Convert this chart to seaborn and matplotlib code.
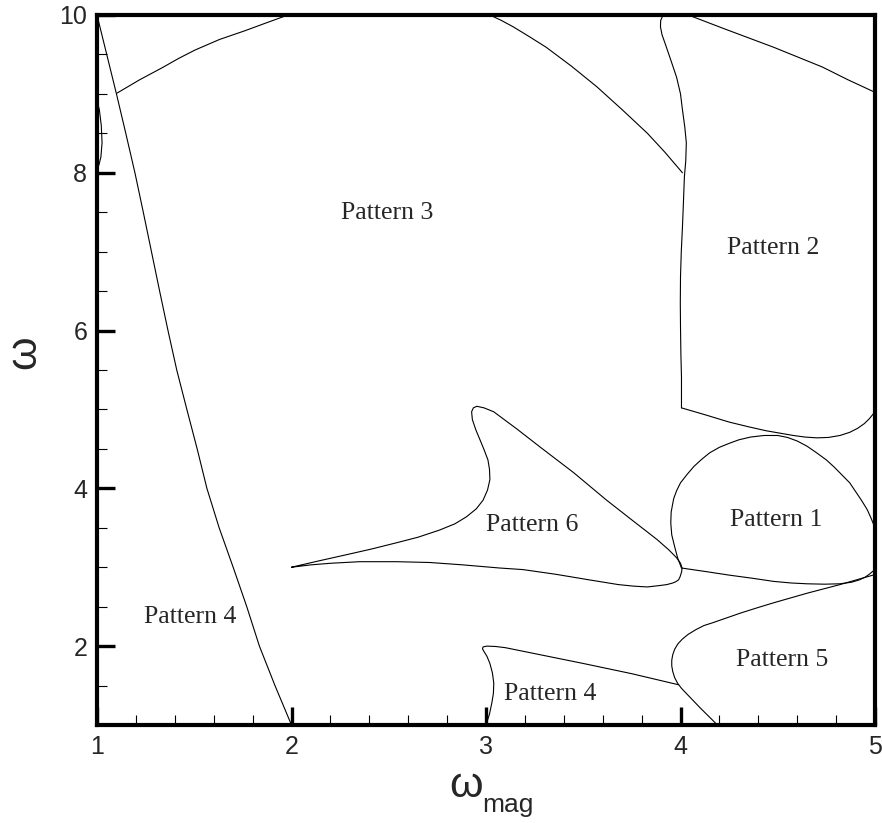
import matplotlib
matplotlib.use("Agg")
import matplotlib.pyplot as plt
from matplotlib.ticker import MultipleLocator
import seaborn as sns
import pandas as pd

# ---- data ----
a_x = [1.0, 1.05, 1.10, 1.148, 1.195, 1.238, 1.28, 1.322, 1.365, 1.41, 1.462, 1.515,
       1.565, 1.628, 1.70, 1.77, 1.835, 1.915, 2.0]
a_y = [10.0, 9.5, 9.0, 8.5, 8.0, 7.5, 7.0, 6.5, 6.0, 5.5, 5.0, 4.5,
       4.0, 3.5, 3.0, 2.5, 2.0, 1.5, 1.0]

b_x = [1.103, 1.22, 1.334, 1.42, 1.504, 1.63, 1.76, 1.87, 1.982]
b_y = [9.01, 9.18, 9.33, 9.45, 9.556, 9.69, 9.80, 9.90, 10.0]

c_x = [3.02, 3.08, 3.14, 3.22, 3.31, 3.44, 3.57, 3.70, 3.83, 3.92, 4.01]
c_y = [10.0, 9.93, 9.85, 9.73, 9.59, 9.35, 9.09, 8.80, 8.50, 8.26, 8.0]

d_x = [3.91, 3.898, 3.897, 3.905, 3.92, 3.95, 3.98, 4.0, 4.01, 4.022, 4.03, 4.027,
       4.02, 4.015, 4.01, 4.004, 4.0, 3.999, 4.0, 4.002, 4.005, 4.005]
d_y = [10.0, 9.93, 9.85, 9.75, 9.645, 9.43, 9.21, 9.0, 8.80, 8.58, 8.38, 8.15,
       7.95, 7.62, 7.31, 7.0, 6.68, 6.35, 6.05, 5.7, 5.41, 5.02]

e_x = [4.04, 4.13, 4.22, 4.35, 4.48, 4.60, 4.73, 4.86, 5.0]
e_y = [10.0, 9.915, 9.83, 9.71, 9.59, 9.47, 9.34, 9.18, 9.02]

f_x = [4.005, 4.13, 4.25, 4.35, 4.44, 4.51, 4.58, 4.64, 4.70, 4.76, 4.82, 4.87,
       4.91, 4.945, 4.97, 4.99, 5.0]
f_y = [5.02, 4.93, 4.84, 4.78, 4.73, 4.70, 4.67, 4.65, 4.64, 4.645, 4.67, 4.71,
       4.76, 4.82, 4.88, 4.94, 4.98]

g_x = [4.005, 3.985, 3.97, 3.955, 3.95, 3.952, 3.965, 3.98, 4.0, 4.035, 4.07, 4.11,
       4.15, 4.20, 4.25, 4.30, 4.36, 4.43, 4.50, 4.55, 4.60, 4.65, 4.70, 4.75,
       4.79, 4.83, 4.87, 4.90, 4.93, 4.96, 4.98, 5.0]
g_y = [2.99, 3.12, 3.26, 3.41, 3.56, 3.70, 3.87, 3.97, 4.07, 4.18, 4.28, 4.37,
       4.45, 4.52, 4.57, 4.615, 4.65, 4.67, 4.67, 4.645, 4.60, 4.535, 4.45, 4.36,
       4.27, 4.17, 4.07, 3.96, 3.85, 3.73, 3.62, 3.5]

h_x = [4.005, 4.13, 4.25, 4.37, 4.48, 4.57, 4.65, 4.74, 4.82, 4.88, 4.92, 4.95,
       4.97, 4.99, 5.0]
h_y = [2.99, 2.945, 2.90, 2.86, 2.82, 2.80, 2.79, 2.785, 2.79, 2.81, 2.84, 2.875,
       2.91, 2.95, 2.97]

i_x = [2.0, 2.14, 2.285, 2.41, 2.54, 2.65, 2.76, 2.84, 2.90, 2.95, 2.985, 3.008,
       3.02, 3.018, 3.01, 2.99, 2.97, 2.948, 2.93, 2.926, 2.935, 2.953, 2.99, 3.04,
       3.16, 3.28, 3.45, 3.62, 3.76, 3.88, 3.94, 3.98, 4.0, 4.008, 4.006, 3.998,
       3.99, 3.975, 3.96, 3.93, 3.90, 3.83, 3.76, 3.68, 3.53, 3.36, 3.19, 3.07,
       2.88, 2.71, 2.54, 2.35, 2.20, 2.10, 2.0]
i_y = [3.0, 3.08, 3.16, 3.23, 3.31, 3.38, 3.47, 3.55, 3.64, 3.74, 3.85, 3.98,
       4.11, 4.24, 4.36, 4.49, 4.61, 4.74, 4.87, 4.97, 5.02, 5.04, 5.02, 4.97,
       4.75, 4.52, 4.20, 3.85, 3.58, 3.35, 3.22, 3.12, 3.05, 2.99, 2.944, 2.88,
       2.84, 2.815, 2.80, 2.78, 2.77, 2.75, 2.76, 2.78, 2.84, 2.91, 2.97, 2.99,
       3.03, 3.06, 3.07, 3.07, 3.05, 3.03, 3.0]

j_x = [3.0, 3.018, 3.03, 3.038, 3.04, 3.033, 3.02, 3.005, 2.99, 2.982, 2.985, 3.005,
       3.05, 3.10, 3.30, 3.50, 3.75, 3.99]
j_y = [1.0, 1.14, 1.28, 1.40, 1.53, 1.66, 1.78, 1.87, 1.93, 1.965, 1.99, 2.0,
       1.995, 1.98, 1.88, 1.78, 1.65, 1.51]

k_x = [4.19, 4.145, 4.10, 4.065, 4.03, 4.005, 3.985, 3.97, 3.96, 3.955, 3.955, 3.96,
       3.97, 3.987, 4.01, 4.04, 4.08, 4.12, 4.17, 4.24, 4.31, 4.40, 4.48, 4.565,
       4.65, 4.735, 4.82, 4.905, 4.99]
k_y = [1.0, 1.11, 1.22, 1.31, 1.40, 1.465, 1.53, 1.60, 1.68, 1.75, 1.82, 1.89,
       1.96, 2.03, 2.09, 2.15, 2.21, 2.26, 2.30, 2.36, 2.42, 2.49, 2.55, 2.61,
       2.67, 2.725, 2.78, 2.84, 2.90]

l_x = [1.0, 1.012, 1.022, 1.026, 1.02, 1.01, 1.0]
l_y = [8.92, 8.80, 8.60, 8.38, 8.20, 8.10, 8.05]

curves = {"A": (a_x, a_y), "B": (b_x, b_y), "C": (c_x, c_y), "D": (d_x, d_y),
          "E": (e_x, e_y), "F": (f_x, f_y), "G": (g_x, g_y), "H": (h_x, h_y),
          "I": (i_x, i_y), "J": (j_x, j_y), "K": (k_x, k_y), "L": (l_x, l_y)}

label_text = ["Pattern 3", "Pattern 2", "Pattern 6", "Pattern 1", "Pattern 4", "Pattern 5", "Pattern 4"]
label_x = [2.49, 4.475, 3.24, 4.49, 1.48, 4.52, 3.33]
label_y = [7.49, 7.05, 3.54, 3.60, 2.37, 1.82, 1.39]

x_ticks = [1, 2, 3, 4, 5]
y_ticks = [2, 4, 6, 8, 10]

# ---- style ----
sns.set_style("white")
plt.rcParams["font.family"] = ["Liberation Sans", "DejaVu Sans"]

fig = plt.figure(figsize=(8.82, 8.23), dpi=100)
ax = fig.add_axes([97 / 882, 98 / 823, 778 / 882, 710 / 823])

for name, (xs, ys) in curves.items():
    df = pd.DataFrame({"x": xs, "y": ys})
    sns.lineplot(data=df, x="x", y="y", sort=False, estimator=None,
                 color="black", linewidth=0.8, ax=ax)

for t, x, y in zip(label_text, label_x, label_y):
    ax.text(x, y, t, ha="center", va="center", fontsize=18.5,
            family=["Liberation Serif", "DejaVu Serif"])

ax.set_xlim(1, 5)
ax.set_ylim(1, 10)
ax.set_xticks(x_ticks)
ax.set_yticks(y_ticks)
ax.xaxis.set_minor_locator(MultipleLocator(0.2))
ax.yaxis.set_minor_locator(MultipleLocator(0.5))
ax.tick_params(which="major", direction="in", length=13, width=2.4,
               labelsize=18, pad=7, color="black", top=False, right=False,
               bottom=True, left=True)
ax.tick_params(which="minor", direction="in", length=7, width=0.8,
               color="black", top=False, right=False, bottom=True, left=True)

for sp in ax.spines.values():
    sp.set_linewidth(3)
    sp.set_color("black")

# axis labels: ω with "mag" subscript on x, ω on y
ax.set_xlabel("ω", fontsize=31, va="baseline")
ax.xaxis.set_label_coords(0.474, -0.101)
ax.text(0.495, -0.1225, "mag", transform=ax.transAxes, fontsize=19,
        ha="left", va="baseline")
ax.set_ylabel("ω", fontsize=31, va="center")
ax.yaxis.set_label_coords(-0.094, 0.525)

fig.savefig("out.png", dpi=100)
